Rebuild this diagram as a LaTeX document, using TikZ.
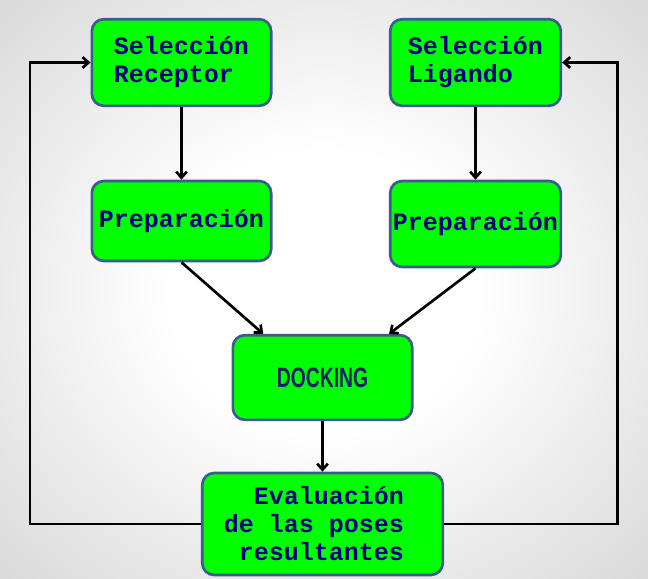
\documentclass[tikz,border=0pt]{standalone}
\usepackage{fontspec}
\usepackage{graphicx}
\setmonofont{Liberation Mono}
\newfontfamily\dockfont{Liberation Sans}
\usetikzlibrary{positioning, arrows.meta}
\definecolor{boxgreen}{HTML}{00FF00}
\definecolor{boxline}{HTML}{3D5B8C}
\definecolor{txtblue}{HTML}{000080}
\definecolor{docktxt}{HTML}{16206A}
\pgfdeclareradialshading{backshade}{\pgfpoint{0bp}{0bp}}{color(0bp)=(white); color(12bp)=(white); color(50bp)=(black!24); color(72bp)=(black!30)}
\tikzset{
  stage/.style={draw=boxline, line width=2pt, fill=boxgreen, rounded corners=9pt, text=txtblue, inner sep=0pt, font=\ttfamily\bfseries\fontsize{18.75pt}{21pt}\selectfont},
  flow/.style={line width=2pt, -{Straight Barb[length=4.5pt,width=8pt]}}
}

\begin{document}
\begin{tikzpicture}[x=0.75pt, y=-0.75pt]
\shade[shading=backshade] (0,0) rectangle (648,578);
\node[stage, minimum width=134.5pt, minimum height=65pt, align=left] (selrec) at (181.5,62.5) {Selección\\Receptor};
\node[stage, minimum width=128pt, minimum height=65pt, align=left] (sellig) at (475.5,62.5) {Selección\\Ligando};
\node[stage, minimum width=134.5pt, minimum height=60pt] (prepl) at (181.5,221) {Preparación};
\node[stage, minimum width=128pt, minimum height=64.5pt] (prepr) at (475.5,224) {Preparación};
\node[stage, minimum width=134.5pt, minimum height=63.5pt, text=docktxt, font=\dockfont\bfseries\fontsize{21pt}{24pt}\selectfont] (dock) at (322.5,377.5) {\scalebox{0.69}[1]{DOCKING}};
\node[stage, minimum width=180.5pt, minimum height=76.5pt, align=right] (evalpos) at (322.5,524) {Evaluación\kern12.75pt\\de las poses\kern12.75pt\\resultantes\kern12.75pt};
% flujo principal
\draw[flow] (selrec) -- (prepl);
\draw[flow] (sellig) -- (prepr);
\draw[flow] (prepl.south) -- ([xshift=-44.5pt]dock.north);
\draw[flow] (prepr.south) -- ([xshift=50pt]dock.north);
\draw[flow] (dock) -- (evalpos);
% realimentacion
\draw[flow] (evalpos.west) -- ++(-171,0) |- (selrec.west);
\draw[flow] (evalpos.east) -- ++(173,0) |- (sellig.east);
\end{tikzpicture}
\end{document}
